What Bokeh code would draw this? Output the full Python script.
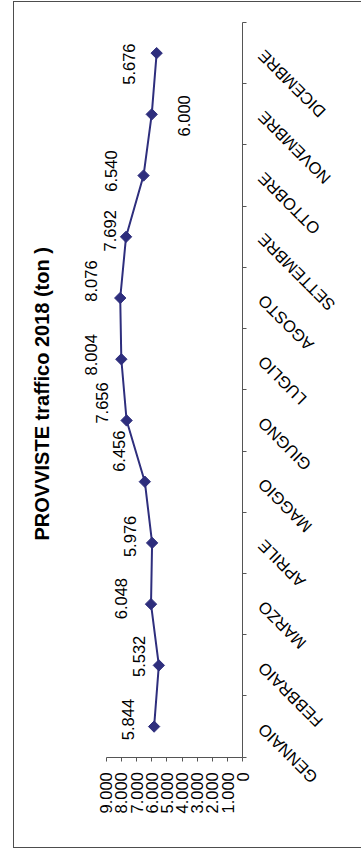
import math
from bokeh.plotting import figure
from bokeh.models import Range1d, FixedTicker, ColumnDataSource, LabelSet, Label
from bokeh.core.properties import value
from bokeh.embed import file_html
from bokeh.resources import INLINE

# ---- data ----
months = ["GENNAIO", "FEBBRAIO", "MARZO", "APRILE", "MAGGIO", "GIUGNO",
          "LUGLIO", "AGOSTO", "SETTEMBRE", "OTTOBRE", "NOVEMBRE", "DICEMBRE"]
traffic = [5844, 5532, 6048, 5976, 6456, 7656, 8004, 8076, 7692, 6540, 6000, 5676]
value_ticks = [0, 1000, 2000, 3000, 4000, 5000, 6000, 7000, 8000, 9000]
value_tick_labels = ["0", "1.000", "2.000", "3.000", "4.000", "5.000",
                     "6.000", "7.000", "8.000", "9.000"]
title_text = "PROVVISTE traffico 2018 (ton )"

# ---- placement of the data labels (screen px, right / down) ----
label_dx = [-26, -19.5, -30, -22.5, -25.5, -24.5, -30, -29, -16.5, -33, 32.5, -28]
label_dy = [-7, -9, -5.5, -6.5, -30.5, -17.5, -4.5, -17, -6, -4.5, 1.5, 11]

FONT = "Liberation Sans"
LINE_COL = "#2E2E7D"
AXIS_COL = "#555555"

idx = list(range(1, len(months) + 1))
fmt = [f"{v:,}".replace(",", ".") for v in traffic]

src = ColumnDataSource(dict(
    traffic=traffic, idx=idx, label=fmt, month=months,
    dx=label_dx, dy=[-d for d in label_dy],
))
tick_src = ColumnDataSource(dict(
    tick=value_ticks, base=[0.5] * len(value_ticks), text=value_tick_labels,
))

W, H = 347, 845
p = figure(width=W, height=H,
           x_range=Range1d(15042, -6503), y_range=Range1d(-0.730, 12.827),
           x_axis_location="below", y_axis_location="right",
           output_backend="svg", toolbar_location=None,
           min_border_left=0, min_border_right=20,
           min_border_top=0, min_border_bottom=15)
p.outline_line_color = None
p.grid.visible = False
p.background_fill_color = "white"
p.border_fill_color = "white"
p.styles = {"margin": "2px 0px 0px 14px", "outline": "1px solid #4d4d4d"}

# value axis (drawn along the bottom of the plot area), ticks only
xa = p.xaxis[0]
xa.fixed_location = 0.5
xa.bounds = (0, 9000)
xa.ticker = FixedTicker(ticks=[], minor_ticks=value_ticks)
xa.major_tick_out = 0
xa.major_tick_in = 0
xa.minor_tick_out = 4
xa.minor_tick_in = 0
xa.axis_line_color = AXIS_COL
xa.minor_tick_line_color = AXIS_COL

# category axis (right of the plot area): ticks at category boundaries
ya = p.yaxis[0]
ya.fixed_location = 0
ya.bounds = (0.5, 12.5)
ya.ticker = FixedTicker(ticks=[], minor_ticks=[i + 0.5 for i in range(len(months) + 1)])
ya.major_tick_out = 0
ya.major_tick_in = 0
ya.minor_tick_out = 4
ya.minor_tick_in = 0
ya.axis_line_color = AXIS_COL
ya.minor_tick_line_color = AXIS_COL

p.line(x="traffic", y="idx", source=src, line_color=LINE_COL, line_width=2)
p.scatter(x="traffic", y="idx", source=src, marker="square", angle=math.pi / 4,
          size=8, fill_color=LINE_COL, line_color=LINE_COL)

# value tick labels
p.add_layout(LabelSet(x="tick", y="base", text="text", source=tick_src,
                      y_offset=-15, angle=math.pi / 2,
                      text_align="right", text_baseline="middle",
                      text_font=value(FONT), text_font_size="16.5px",
                      text_color="black"))

# data labels
p.add_layout(LabelSet(x="traffic", y="idx", text="label", source=src,
                      x_offset="dx", y_offset="dy", angle=math.pi / 2,
                      text_align="center", text_baseline="middle",
                      text_font=value(FONT), text_font_size="16.5px",
                      text_color="black"))

# month labels
p.add_layout(LabelSet(x=0, y="idx", text="month", source=src,
                      x_offset=18, y_offset=0, angle=3 * math.pi / 4,
                      text_align="right", text_baseline="middle",
                      text_font=value(FONT), text_font_size="16.5px",
                      text_color="black"))

# chart title (reads bottom to top, starts low on the left side)
p.add_layout(Label(x=13230, y=4.040, text=title_text, angle=math.pi / 2,
                   text_align="left", text_baseline="middle",
                   text_font=FONT, text_font_size="20px", text_font_style="bold",
                   text_color="black"))

open("out.html", "w").write(file_html(p, INLINE))
